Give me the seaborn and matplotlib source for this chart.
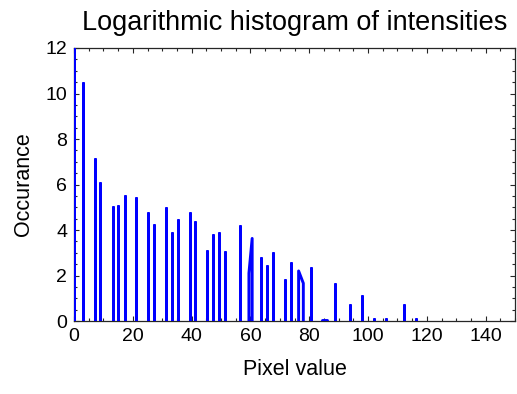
import numpy as np
import pandas as pd
import matplotlib
matplotlib.use("Agg")
import matplotlib.pyplot as plt
import seaborn as sns
from matplotlib.ticker import MultipleLocator

# Peak groups of the log histogram: each group is a run of consecutive non-empty bins
group_x = [
    [0.0], [3.0], [7.0], [9.0], [13.1], [15.1], [17.2], [21.2], [25.0], [27.2],
    [31.2], [33.2], [35.3], [39.3], [41.3], [45.4], [47.4], [49.4], [51.3], [56.5],
    [59.5, 60.6], [63.6], [65.8], [67.7], [71.7], [73.7], [76.4, 78.0], [80.7],
    [84.5, 86.0], [88.8], [93.8], [98.0], [102.0], [106.0], [112.2], [116.2],
]
group_y = [
    [12.5], [10.45], [7.12], [6.05], [5.01], [5.05], [5.48], [5.41], [4.73], [4.22],
    [4.95], [3.85], [4.44], [4.73], [4.34], [3.09], [3.78], [3.85], [3.03], [4.18],
    [2.10, 3.63], [2.75], [2.40], [2.99], [1.80], [2.56], [2.20, 1.66], [2.32],
    [0.06, 0.06], [1.61], [0.70], [1.10], [0.08], [0.08], [0.70], [0.08],
]

x_ticks = [0, 20, 40, 60, 80, 100, 120, 140]
y_ticks = [0, 2, 4, 6, 8, 10, 12]

title = "Logarithmic histogram of intensities"
x_label = "Pixel value"
y_label = "Occurance"

# Build line vertices: each group rises from the baseline and returns to it
rows = []
for gid, (xs, ys) in enumerate(zip(group_x, group_y)):
    rows.append((gid, 0, xs[0], 0.0))
    for k, (xv, yv) in enumerate(zip(xs, ys)):
        rows.append((gid, k + 1, xv, yv))
    rows.append((gid, len(xs) + 1, xs[-1], 0.0))
df = pd.DataFrame(rows, columns=["peak", "order", "x", "y"])

sns.set_theme(style="white")
plt.rcParams["font.family"] = ["Liberation Sans", "DejaVu Sans"]

fig = plt.figure(figsize=(5.17, 3.94), dpi=100)
ax = fig.add_axes([74 / 517, 1 - 321 / 394, 441 / 517, 273 / 394])

sns.lineplot(data=df, x="x", y="y", units="peak", estimator=None, sort=False,
             color="#0000ff", linewidth=2.1, ax=ax, legend=False, zorder=4)

ax.set_xlim(0, 150)
ax.set_ylim(0, 12)
ax.set_xticks(x_ticks)
ax.set_yticks(y_ticks)
ax.xaxis.set_minor_locator(MultipleLocator(5))
ax.yaxis.set_minor_locator(MultipleLocator(0.5))

for s in ax.spines.values():
    s.set_visible(True)
    s.set_color("#262626")
    s.set_linewidth(0.9)
    s.set_zorder(3)

ax.tick_params(which="both", direction="in", top=True, right=True,
               bottom=True, left=True, colors="#262626", width=0.8,
               labelsize=14, labelcolor="black")
ax.tick_params(which="major", length=3.5, pad=5)
ax.tick_params(which="minor", length=2.2)

ax.set_xlabel(x_label, fontsize=15.5, labelpad=10, color="black")
ax.set_ylabel(y_label, fontsize=15.5, labelpad=8, color="black")
ax.set_title(title, fontsize=19.5, pad=13, color="black")
ax.grid(False)

fig.savefig("out.png", dpi=100)
